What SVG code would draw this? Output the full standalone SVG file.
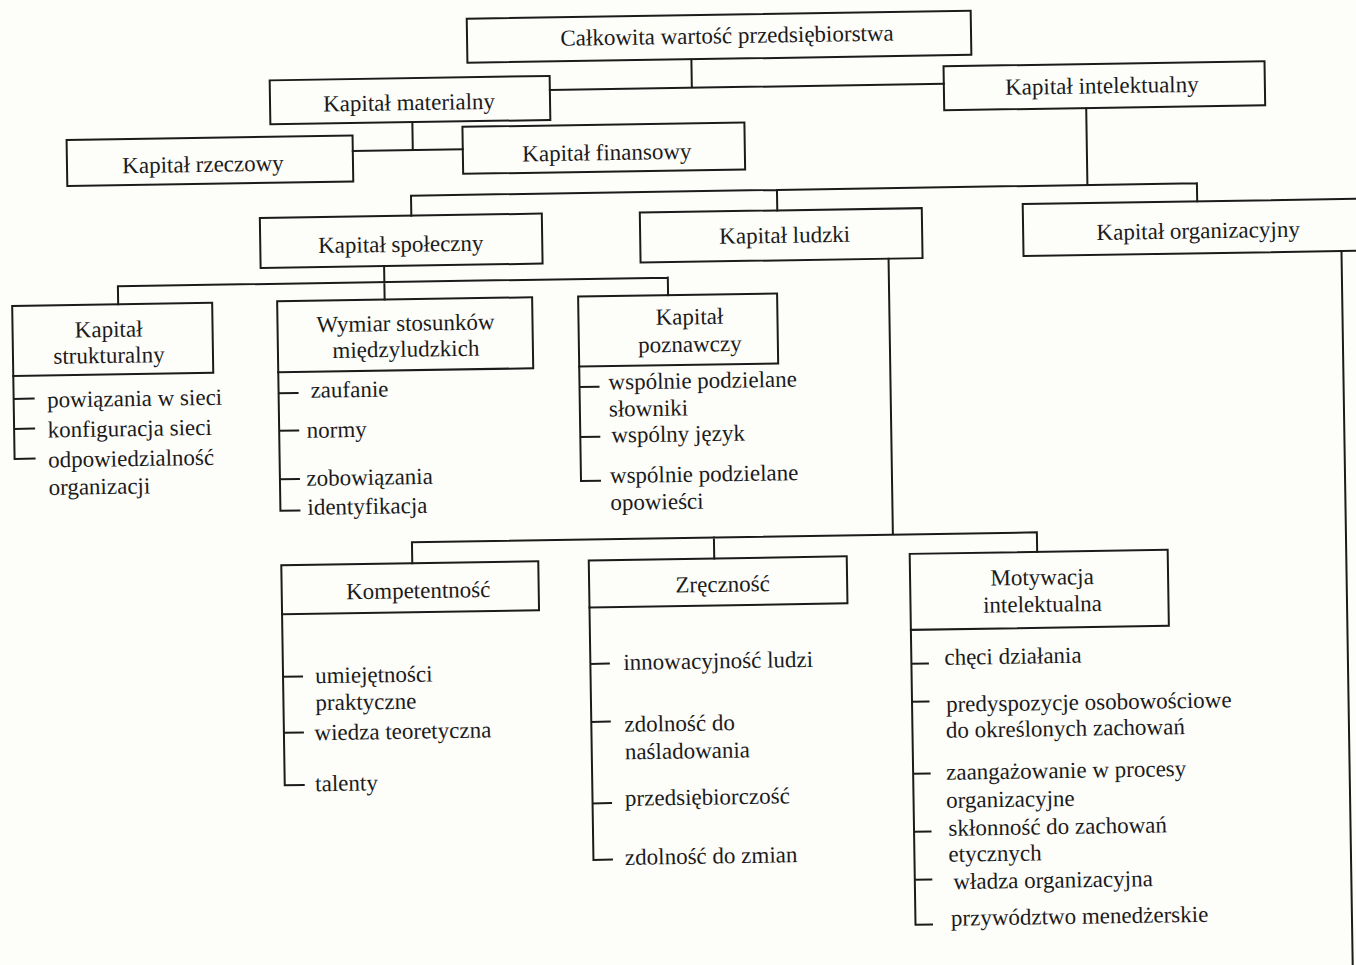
<svg xmlns="http://www.w3.org/2000/svg" width="1356" height="965" viewBox="0 0 1356 965">
  <style>
    .box { fill: none; stroke: #1b1b1b; stroke-width: 2; }
    .ln { fill: none; stroke: #1b1b1b; stroke-width: 2; stroke-linecap: square; }
    .t { font-family: "Liberation Serif", "Times New Roman", serif; font-size: 23px; fill: #1b1b1b; }
    .c { text-anchor: middle; }
  </style>
  <rect x="0" y="0" width="1356" height="965" fill="#fdfdfa"/>
  <g transform="rotate(-0.9 678 480)">
    <!-- connectors between boxes -->
    <g id="connectors">
      <path class="ln" d="M698 60 V88 M556 88 H950"/>
      <path class="ln" d="M418 118 V146 M358 146 H468"/>
      <path class="ln" d="M1092 115 V191.5 M415.5 191.5 H1201.5 M415.5 191.5 V211.5 M781.5 191.5 V212 M1201.5 191.5 V209.5"/>
      <path class="ln" d="M1345 261.5 V985"/>
      <path class="ln" d="M387.5 261.5 V295 M121 277.5 H671 M121 277.5 V295.5 M671 277.5 V295"/>
      <path class="ln" d="M892 262 V538 M411 538 H1036 M411 538 V559 M713 538 V559 M1036 538 V557.5"/>
    </g>

    <g id="calkowita">
      <rect class="box" x="474" y="15.5" width="504" height="44"/>
      <text class="t c" x="734" y="44">Całkowita wartość przedsiębiorstwa</text>
    </g>
    <g id="materialny">
      <rect class="box" x="276" y="74" width="280" height="44"/>
      <text class="t c" x="415" y="106">Kapitał materialny</text>
    </g>
    <g id="intelektualny">
      <rect class="box" x="950" y="70.5" width="321" height="44"/>
      <text class="t c" x="1108" y="100">Kapitał intelektualny</text>
    </g>
    <g id="rzeczowy">
      <rect class="box" x="72" y="130.5" width="286" height="46"/>
      <text class="t c" x="208" y="164.5">Kapitał rzeczowy</text>
    </g>
    <g id="finansowy">
      <rect class="box" x="468" y="123.5" width="282" height="47"/>
      <text class="t c" x="612" y="159">Kapitał finansowy</text>
    </g>
    <g id="spoleczny">
      <rect class="box" x="264" y="211.5" width="282" height="50"/>
      <text class="t c" x="404.5" y="247.5">Kapitał społeczny</text>
    </g>
    <g id="ludzki">
      <rect class="box" x="644" y="212" width="282" height="50"/>
      <text class="t c" x="788.5" y="244.5">Kapitał ludzki</text>
    </g>
    <g id="organizacyjny">
      <rect class="box" x="1027" y="209.5" width="400" height="52"/>
      <text class="t c" x="1202" y="246.5">Kapitał organizacyjny</text>
    </g>

    <g id="strukturalny">
      <rect class="box" x="15" y="295.5" width="200" height="70"/>
      <text class="t c" x="111" y="328">Kapitał</text>
      <text class="t c" x="111" y="354">strukturalny</text>
      <path class="ln" d="M15 365.5 V448.5 M15 388.5 H35 M15 418.5 H35 M15 448.5 H35"/>
      <text class="t" x="48.5" y="397.5">powiązania w sieci</text>
      <text class="t" x="48.5" y="427.5">konfiguracja sieci</text>
      <text class="t" x="48.5" y="457.5">odpowiedzialność</text>
      <text class="t" x="48.5" y="485">organizacji</text>
    </g>
    <g id="wymiar">
      <rect class="box" x="280" y="295" width="255" height="71"/>
      <text class="t c" x="408" y="326.5">Wymiar stosunków</text>
      <text class="t c" x="408" y="352.5">międzyludzkich</text>
      <path class="ln" d="M280 366 V504.5 M280 387 H299 M280 424.5 H299 M280 473 H299 M280 504.5 H299"/>
      <text class="t" x="312" y="392">zaufanie</text>
      <text class="t" x="307.5" y="432">normy</text>
      <text class="t" x="306.5" y="480">zobowiązania</text>
      <text class="t" x="307" y="509">identyfikacja</text>
    </g>
    <g id="poznawczy">
      <rect class="box" x="581" y="295" width="199" height="70"/>
      <text class="t c" x="692" y="324.5">Kapitał</text>
      <text class="t c" x="692" y="352">poznawczy</text>
      <path class="ln" d="M581 365 V479.5 M581 385.5 H600 M581 435.5 H600 M581 479.5 H600"/>
      <text class="t" x="610" y="388.5">wspólnie podzielane</text>
      <text class="t" x="610" y="415.5">słowniki</text>
      <text class="t" x="612" y="441.5">wspólny język</text>
      <text class="t" x="610" y="482">wspólnie podzielane</text>
      <text class="t" x="610" y="509">opowieści</text>
    </g>

    <g id="kompetentnosc">
      <rect class="box" x="280" y="559" width="257" height="49"/>
      <text class="t c" x="416.5" y="594">Kompetentność</text>
      <path class="ln" d="M280 608 V779 M280 670.5 H299 M280 726.5 H299 M280 779 H299"/>
      <text class="t" x="312" y="677.5">umiejętności</text>
      <text class="t" x="312" y="704.5">praktyczne</text>
      <text class="t" x="310.5" y="734.5">wiedza teoretyczna</text>
      <text class="t" x="310.5" y="785.5">talenty</text>
    </g>
    <g id="zrecznosc">
      <rect class="box" x="587.5" y="559" width="258" height="47"/>
      <text class="t c" x="721" y="592.5">Zręczność</text>
      <path class="ln" d="M587.5 606 V858.5 M587.5 662.5 H606 M587.5 720.5 H606 M587.5 802 H606 M587.5 858.5 H606"/>
      <text class="t" x="620.5" y="669">innowacyjność ludzi</text>
      <text class="t" x="620.5" y="731">zdolność do</text>
      <text class="t" x="620.5" y="758.5">naśladowania</text>
      <text class="t" x="620" y="805">przedsiębiorczość</text>
      <text class="t" x="619" y="864">zdolność do zmian</text>
    </g>
    <g id="motywacja">
      <rect class="box" x="908.5" y="557.5" width="258" height="76"/>
      <text class="t c" x="1040.5" y="590.5">Motywacja</text>
      <text class="t c" x="1040.5" y="617.5">intelektualna</text>
      <path class="ln" d="M908.5 633.5 V928.5 M908.5 667.5 H925 M908.5 705.5 H925 M908.5 777.5 H925 M908.5 835.5 H925 M908.5 883.5 H925 M908.5 928.5 H925"/>
      <text class="t" x="941.5" y="669">chęci działania</text>
      <text class="t" x="942.5" y="716">predyspozycje osobowościowe</text>
      <text class="t" x="942" y="742">do określonych zachowań</text>
      <text class="t" x="941.5" y="784">zaangażowanie w procesy</text>
      <text class="t" x="941" y="812">organizacyjne</text>
      <text class="t" x="943" y="840">skłonność do zachowań</text>
      <text class="t" x="942.5" y="866">etycznych</text>
      <text class="t" x="947" y="893.5">władza organizacyjna</text>
      <text class="t" x="944" y="930">przywództwo menedżerskie</text>
    </g>
  </g>
</svg>
